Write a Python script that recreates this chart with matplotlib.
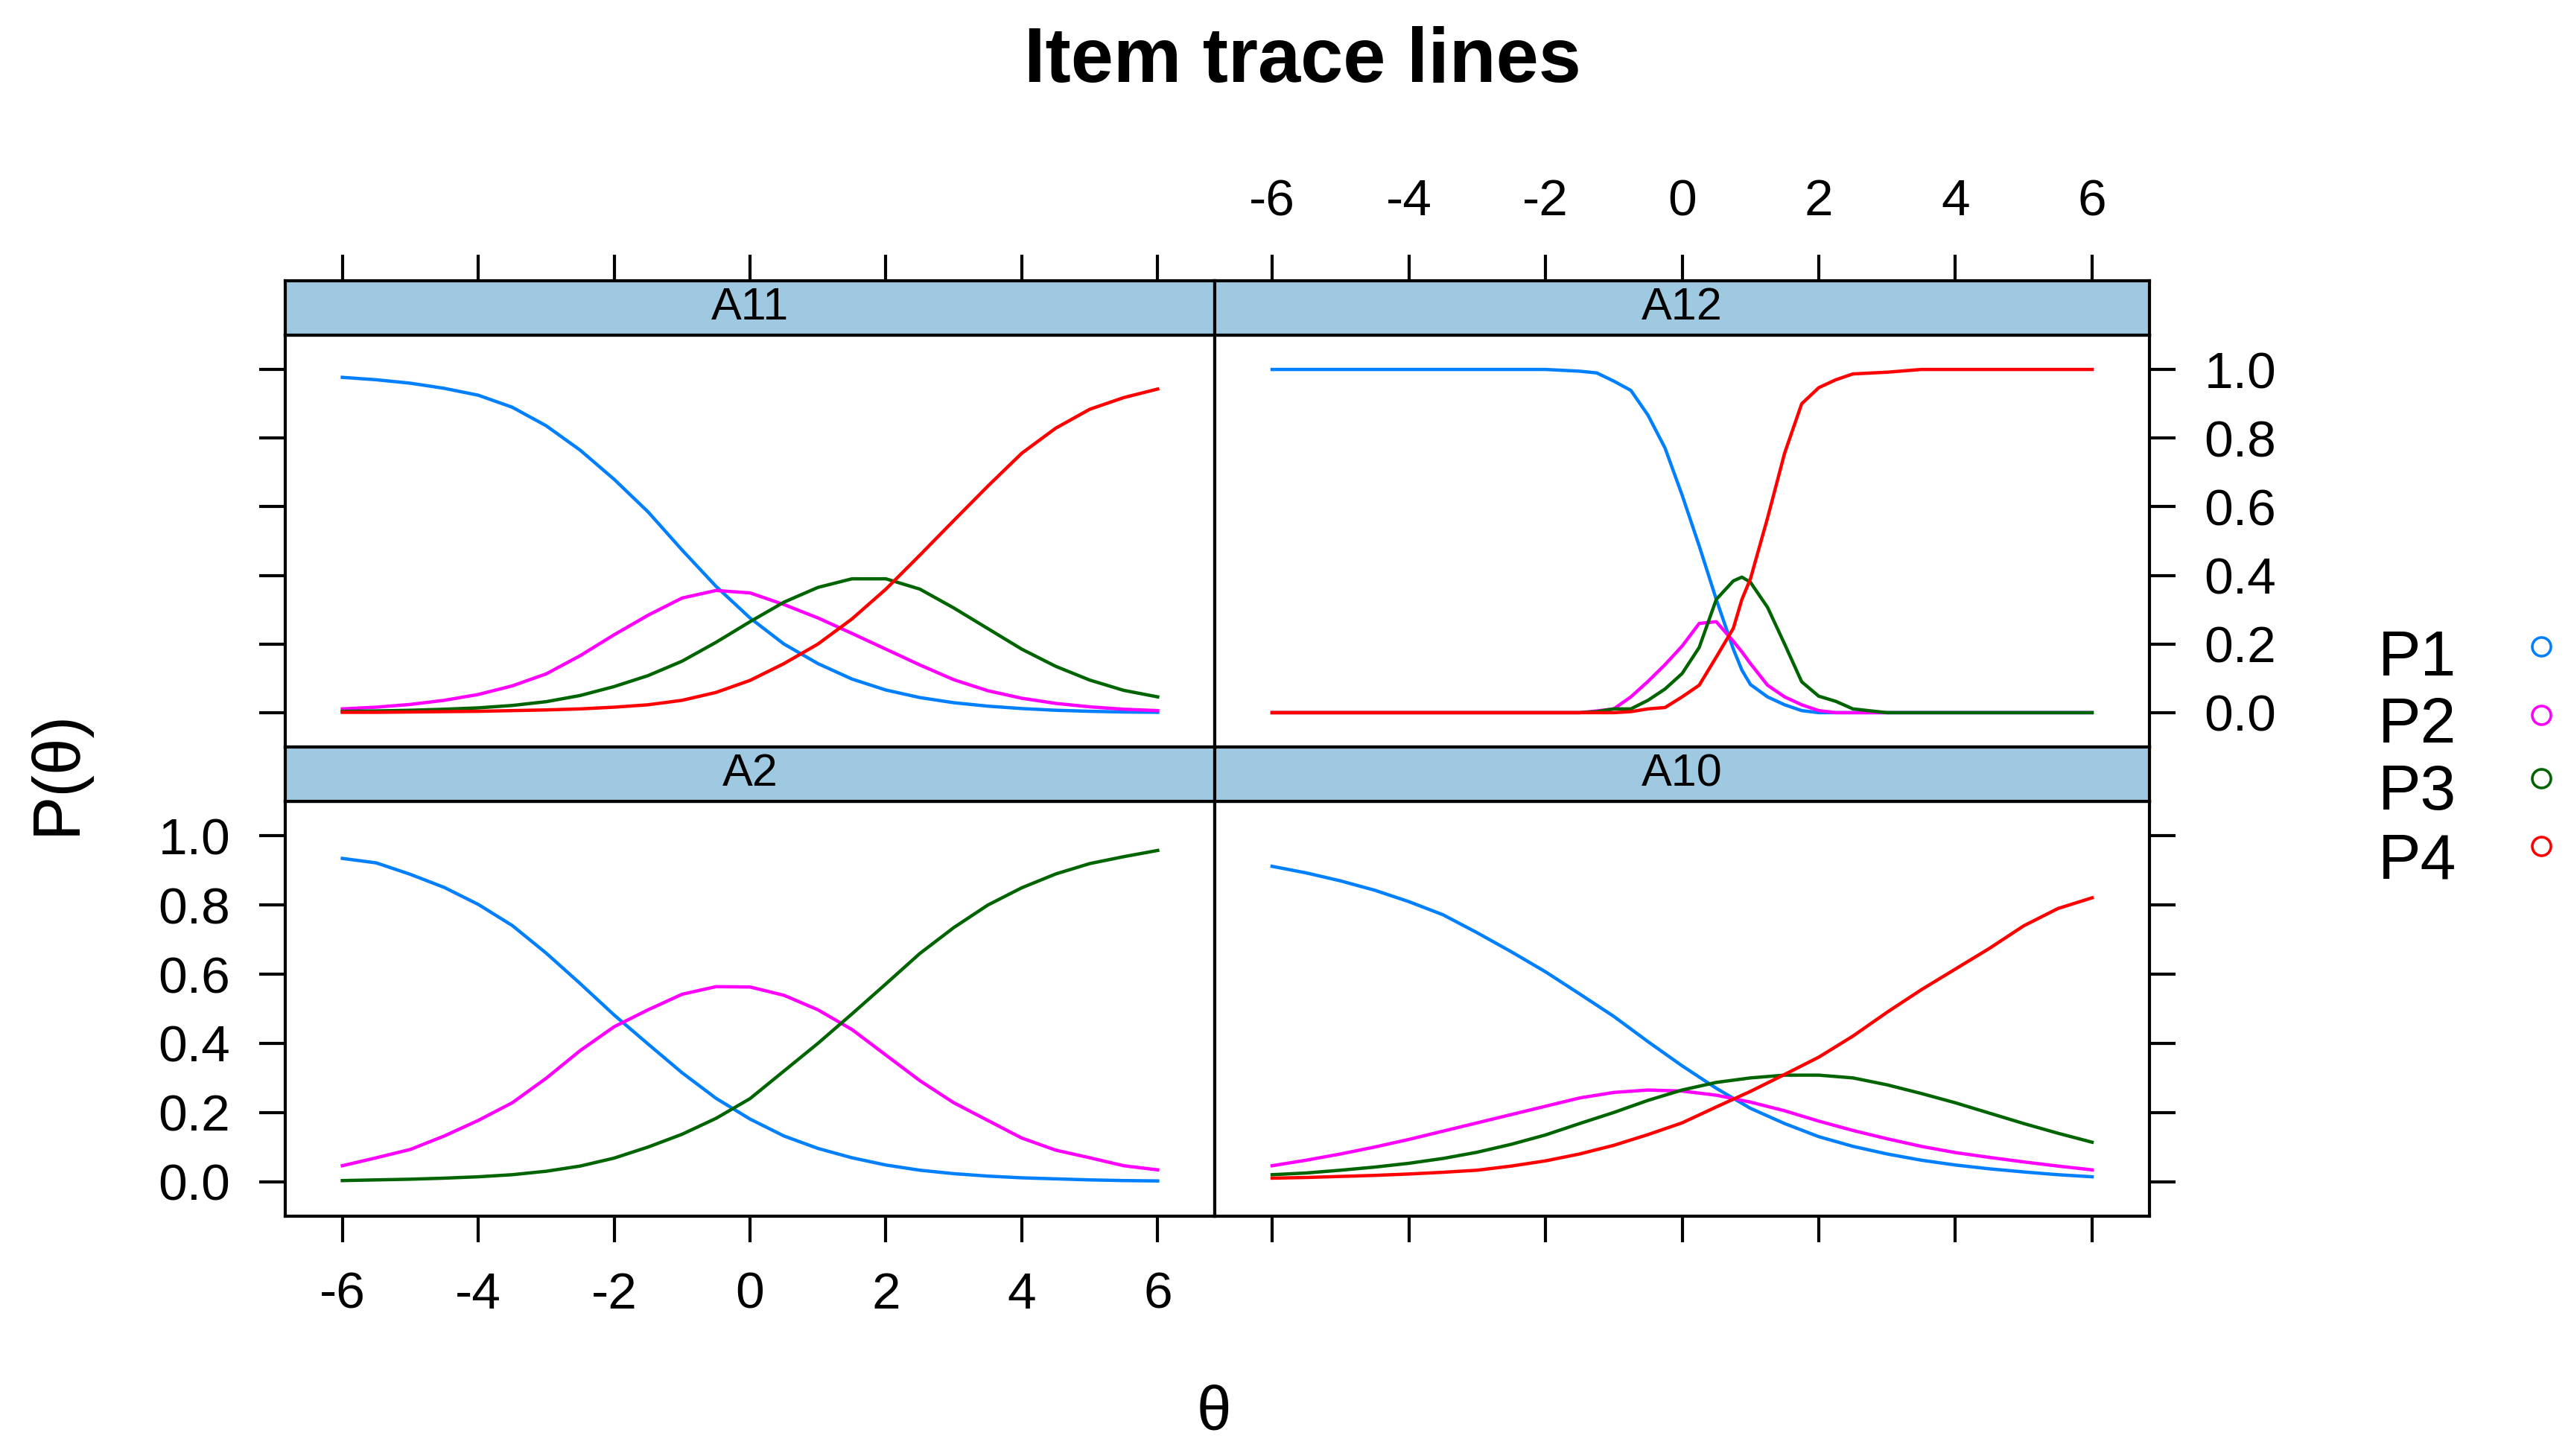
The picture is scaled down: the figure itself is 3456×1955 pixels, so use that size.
import numpy as np
import matplotlib.pyplot as plt
from matplotlib.lines import Line2D

plt.rcParams['font.family'] = ['Liberation Sans', 'DejaVu Sans']
plt.rcParams['axes.unicode_minus'] = False

# theta grid used by A11, A2, A10
theta = [-6, -5.5, -5, -4.5, -4, -3.5, -3, -2.5, -2, -1.5, -1, -0.5, 0,
         0.5, 1, 1.5, 2, 2.5, 3, 3.5, 4, 4.5, 5, 5.5, 6]
# A12 is steep, so it is read on its own grid
theta_a12 = [-6, -2, -1.5, -1.25, -1, -0.75, -0.5, -0.25, 0, 0.25, 0.5, 0.75,
             0.875, 1, 1.25, 1.5, 1.75, 2, 2.25, 2.5, 3, 3.5, 6]

a11_p1 = [0.977, 0.970, 0.960, 0.945, 0.925, 0.890, 0.836, 0.765, 0.680, 0.585, 0.474, 0.368, 0.276,
          0.200, 0.143, 0.098, 0.066, 0.044, 0.029, 0.019, 0.012, 0.007, 0.004, 0.002, 0.001]
a11_p2 = [0.011, 0.016, 0.024, 0.036, 0.053, 0.078, 0.113, 0.166, 0.227, 0.284, 0.334, 0.356, 0.349,
          0.315, 0.276, 0.231, 0.185, 0.139, 0.096, 0.064, 0.042, 0.027, 0.017, 0.010, 0.006]
a11_p3 = [0.004, 0.005, 0.007, 0.010, 0.014, 0.021, 0.032, 0.050, 0.076, 0.108, 0.150, 0.205, 0.265,
          0.322, 0.365, 0.390, 0.390, 0.360, 0.305, 0.245, 0.185, 0.135, 0.095, 0.065, 0.046]
a11_p4 = [0.001, 0.001, 0.002, 0.003, 0.004, 0.006, 0.008, 0.011, 0.016, 0.023, 0.036, 0.059, 0.094,
          0.143, 0.200, 0.273, 0.360, 0.459, 0.560, 0.660, 0.756, 0.829, 0.884, 0.918, 0.943]

a12_p1 = [1.0, 1.0, 0.995, 0.99, 0.966, 0.939, 0.867, 0.771, 0.634, 0.486, 0.33, 0.185,
          0.124, 0.082, 0.046, 0.023, 0.006, 0, 0, 0, 0, 0, 0]
a12_p2 = [0, 0, 0, 0.005, 0.011, 0.046, 0.091, 0.14, 0.194, 0.26, 0.265, 0.208,
          0.177, 0.143, 0.08, 0.046, 0.023, 0.006, 0, 0, 0, 0, 0]
a12_p3 = [0, 0, 0, 0.003, 0.011, 0.011, 0.036, 0.069, 0.114, 0.19, 0.33, 0.384,
          0.395, 0.38, 0.307, 0.2, 0.09, 0.048, 0.033, 0.011, 0, 0, 0]
a12_p4 = [0, 0, 0, 0, 0, 0.003, 0.011, 0.015, 0.046, 0.08, 0.162, 0.246,
          0.33, 0.39, 0.567, 0.756, 0.9, 0.947, 0.97, 0.987, 0.992, 1.0, 1.0]

a2_p1 = [0.935, 0.922, 0.889, 0.851, 0.802, 0.741, 0.661, 0.573, 0.482, 0.398, 0.315, 0.241, 0.181,
         0.132, 0.096, 0.069, 0.048, 0.033, 0.023, 0.016, 0.011, 0.008, 0.005, 0.003, 0.002]
a2_p2 = [0.046, 0.069, 0.093, 0.132, 0.177, 0.228, 0.299, 0.379, 0.448, 0.497, 0.542, 0.564, 0.563,
         0.539, 0.497, 0.440, 0.366, 0.292, 0.228, 0.177, 0.126, 0.091, 0.069, 0.046, 0.034]
a2_p3 = [0.003, 0.005, 0.007, 0.010, 0.014, 0.020, 0.030, 0.045, 0.068, 0.100, 0.137, 0.183, 0.240,
         0.320, 0.400, 0.485, 0.572, 0.660, 0.735, 0.800, 0.850, 0.890, 0.920, 0.940, 0.958]

a10_p1 = [0.912, 0.893, 0.870, 0.843, 0.810, 0.772, 0.720, 0.665, 0.607, 0.543, 0.478, 0.405, 0.335,
          0.270, 0.212, 0.168, 0.130, 0.102, 0.080, 0.062, 0.048, 0.037, 0.028, 0.020, 0.014]
a10_p2 = [0.046, 0.062, 0.080, 0.100, 0.122, 0.146, 0.170, 0.194, 0.218, 0.242, 0.258, 0.265, 0.262,
          0.250, 0.230, 0.205, 0.175, 0.148, 0.124, 0.102, 0.084, 0.070, 0.057, 0.045, 0.034]
a10_p3 = [0.020, 0.025, 0.033, 0.042, 0.053, 0.067, 0.085, 0.108, 0.135, 0.168, 0.200, 0.235, 0.265,
          0.287, 0.300, 0.308, 0.308, 0.300, 0.280, 0.255, 0.228, 0.198, 0.168, 0.140, 0.114]
a10_p4 = [0.010, 0.012, 0.015, 0.018, 0.022, 0.027, 0.033, 0.045, 0.060, 0.080, 0.105, 0.136, 0.170,
          0.216, 0.261, 0.310, 0.360, 0.421, 0.490, 0.555, 0.615, 0.675, 0.740, 0.790, 0.821]

categories = ['P1', 'P2', 'P3', 'P4']
colors = ['#0080ff', '#ff00ff', '#006400', '#ff0000']
xticks = [-6, -4, -2, 0, 2, 4, 6]
yticks = [0.0, 0.2, 0.4, 0.6, 0.8, 1.0]

W, H = 3456, 1955
fig = plt.figure(figsize=(W / 200, H / 200), dpi=200)


def box(x0, x1, y0, y1):
    # pixel box -> figure fraction
    return [x0 / W, 1 - y1 / H, (x1 - x0) / W, (y1 - y0) / H]


cols = [(383, 1631), (1631, 2886)]
rows = [(377, 450, 1003), (1003, 1076, 1633)]   # strip top, strip bottom / panel top, panel bottom

panels = [
    ('A11', 0, 0, theta, [a11_p1, a11_p2, a11_p3, a11_p4]),
    ('A12', 0, 1, theta_a12, [a12_p1, a12_p2, a12_p3, a12_p4]),
    ('A2', 1, 0, theta, [a2_p1, a2_p2, a2_p3]),
    ('A10', 1, 1, theta, [a10_p1, a10_p2, a10_p3, a10_p4]),
]

tick_fs = 25
lw_frame = 1.5
tkw = dict(direction='out', length=12.5, width=1.5, labelsize=tick_fs, pad=14)

for name, r, c, th, series in panels:
    x0, x1 = cols[c]
    s0, s1, p1 = rows[r]
    ax = fig.add_axes(box(x0, x1, s1, p1))
    for vals, col in zip(series, colors):
        ax.plot(th, vals, color=col, lw=1.6)
    ax.set_xlim(-6.84, 6.84)
    ax.set_ylim(-0.1, 1.1)
    ax.set_xticks(xticks)
    ax.set_yticks(yticks)
    ax.set_yticklabels(['%.1f' % v for v in yticks])
    for sp in ax.spines.values():
        sp.set_linewidth(lw_frame)
    ax.tick_params(axis='both', **tkw)
    ax.tick_params(axis='x', top=False, labeltop=False,
                   bottom=(r == 1), labelbottom=(r == 1 and c == 0))
    ax.tick_params(axis='y', left=(c == 0), labelleft=(c == 0 and r == 1),
                   right=(c == 1), labelright=(c == 1 and r == 0))

    sax = fig.add_axes(box(x0, x1, s0, s1))
    sax.set_facecolor('#9fc9e0')
    sax.set_xlim(-6.84, 6.84)
    sax.set_ylim(0, 1)
    sax.set_yticks([])
    for sp in sax.spines.values():
        sp.set_linewidth(lw_frame)
    if r == 0:
        sax.set_xticks(xticks)
        sax.tick_params(axis='x', **tkw)
        sax.tick_params(axis='x', bottom=False, labelbottom=False,
                        top=True, labeltop=(c == 1))
    else:
        sax.set_xticks([])
    sax.text(0.5, 0.5, name, transform=sax.transAxes, ha='center', va='center', fontsize=22)

fig.text(0.506, 0.9437, 'Item trace lines', ha='center', va='baseline',
         fontsize=37, fontweight='bold')
fig.text(0.4716, 0.018, 'θ', ha='center', va='baseline', fontsize=30)
fig.text(0.0225, 0.4696, 'P(θ)', ha='center', va='center', rotation=90, fontsize=32)

# legend on the right
leg_text_y = [0.5361, 0.4900, 0.4440, 0.3969]
leg_mark_y = [0.5560, 0.5090, 0.4655, 0.4190]
for lab, col, ty, my in zip(categories, colors, leg_text_y, leg_mark_y):
    fig.text(0.9239, ty, lab, ha='left', va='baseline', fontsize=31)
    fig.add_artist(Line2D([0.9873], [my], transform=fig.transFigure, marker='o',
                          markersize=9, markerfacecolor='none', markeredgecolor=col,
                          markeredgewidth=1.3, linestyle='none'))

fig.savefig('out.png', dpi=200)
